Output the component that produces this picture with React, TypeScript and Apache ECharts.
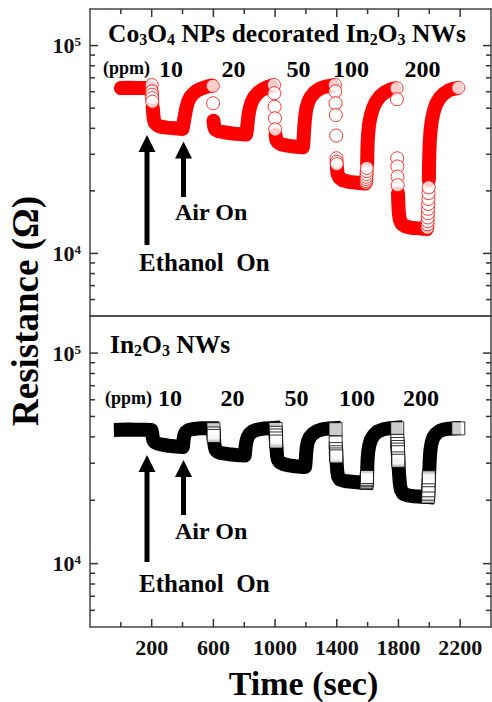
import React, { useEffect, useRef } from "react";
import * as echarts from "echarts";

// ---------- data ----------
const concentrations = ["10", "20", "50", "100", "200"];
const xMajorTicks = [200, 600, 1000, 1400, 1800, 2200];
const xMinorTicks = [0, 400, 800, 1200, 1600, 2000];
const yMajorTicks = [10000, 100000];
const yMinorTicks = [6000, 7000, 8000, 9000, 20000, 30000, 40000, 50000, 60000, 70000, 80000, 90000];

// Co3O4 NPs decorated In2O3 NWs : dense part of the trace (time s, resistance ohm), null = gap
const coBand: (number[] | null)[] = [
  [0, 62500], [50, 62700], [100, 62600], [150, 62500], [195, 62300], null,
  [207, 50500], [210, 47000], [214, 44200], [220, 42600], [235, 41400], [260, 40700], [300, 40300], [350, 40000], [400, 39700],
  [405, 41500], [410, 43800], [416, 46500], [424, 50000], [435, 53500], [450, 56500], [470, 58800], [495, 60800], [525, 62300], [560, 63500], [588, 64300], null,
  [601, 43500], [605, 40800], [612, 39500], [630, 38800], [670, 38300], [720, 37800], [770, 37500], [812, 37300],
  [816, 38600], [819, 40500], [823, 43300], [828, 46500], [836, 50000], [848, 53500], [865, 56500], [888, 59200], [915, 61300], [945, 62900], [978, 64100], null,
  [1003, 37200], [1008, 35300], [1018, 34200], [1040, 33500], [1080, 33000], [1120, 32700], [1160, 32500], [1180, 32400],
  [1184, 34500], [1187, 38000], [1191, 42000], [1196, 46000], [1203, 50000], [1215, 53500], [1232, 56800], [1255, 59500], [1285, 61800], [1320, 63300], [1372, 64400], null,
  [1401, 26000], [1405, 24200], [1415, 23200], [1440, 22500], [1480, 22100], [1530, 21900], [1585, 21700], null,
  [1597, 27000], [1598, 30000], [1600, 34000], [1604, 38000], [1610, 42000], [1620, 46000], [1635, 50000], [1655, 53800], [1680, 57000], [1710, 59500], [1745, 61300], [1772, 62100], null,
  [1797, 19500], [1799, 17500], [1802, 15800], [1808, 14600], [1820, 13900], [1845, 13500], [1880, 13300], [1930, 13200], [1984, 13100], null,
  [1997, 22500], [1998, 26000], [2000, 30000], [2003, 34500], [2008, 39000], [2016, 43500], [2028, 48000], [2045, 52500], [2068, 56000], [2095, 58800], [2125, 60800], [2150, 61800], [2175, 62300],
];
// Co3O4 NPs decorated In2O3 NWs : separate points at the switching moments
const coPoints: number[][] = [
  [200, 64600], [201, 60200], [202, 58000], [203, 55900], [204, 53700],
  [596, 64000], [598, 52800],
  [993, 64700], [995, 59000], [997, 50800], [999, 44700], [1001, 39500],
  [1388, 64700], [1390, 60200], [1392, 52800], [1394, 46300], [1396, 36900], [1398, 28700], [1399, 27600], [1400, 26900],
  [1589, 21900], [1590, 22300], [1591, 22800], [1592, 23400], [1593, 24100], [1594, 24900], [1595, 25800],
  [1788, 62400], [1790, 55200], [1792, 28700], [1793, 26200], [1794, 23400], [1795, 21300],
  [1987, 13300], [1988, 13800], [1989, 14300], [1990, 14900], [1991, 15600], [1992, 16400], [1993, 17300], [1994, 18300], [1995, 19500], [1996, 20800],
  [2188, 62600],
];

// In2O3 NWs : dense part of the trace
const inBand: (number[] | null)[] = [
  [0, 43200], [50, 43300], [100, 43200], [150, 43200], [198, 43100], [202, 42000], [206, 40000], [211, 38600], [220, 37700], [240, 37100], [270, 36700], [310, 36300], [360, 36000], [402, 35800],
  [405, 37500], [408, 39500], [413, 41000], [422, 42200], [440, 43100], [470, 43600], [510, 43900], [555, 44000], [590, 44000], null,
  [604, 39200], [606, 37500], [609, 36000], [614, 34800], [625, 34000], [650, 33500], [700, 33100], [750, 32800], [803, 32600],
  [806, 34000], [809, 36000], [814, 38000], [822, 39800], [835, 41300], [855, 42500], [885, 43300], [925, 43800], [965, 44000], [990, 44100], null,
  [1008, 36500], [1010, 34500], [1013, 32500], [1018, 31200], [1030, 30300], [1055, 29700], [1090, 29300], [1130, 29000], [1170, 28800], [1195, 28800],
  [1198, 30500], [1201, 33000], [1205, 35500], [1212, 37800], [1225, 39800], [1245, 41400], [1272, 42600], [1305, 43400], [1345, 43800], [1382, 44000], null,
  [1398, 31200], [1400, 29500], [1403, 27500], [1408, 26000], [1420, 25100], [1450, 24700], [1500, 24500], [1550, 24300], [1590, 24200], null,
  [1597, 27000], [1598, 29000], [1600, 31500], [1604, 34000], [1611, 36500], [1622, 38800], [1640, 40800], [1665, 42400], [1700, 43400], [1745, 44000], [1782, 44200], null,
  [1800, 30000], [1802, 28000], [1805, 26000], [1809, 24000], [1815, 22500], [1830, 21500], [1860, 21100], [1900, 20900], [1950, 20800], [1988, 20700], null,
  [1999, 26800], [2001, 29000], [2003, 31500], [2007, 34500], [2014, 37200], [2025, 39600], [2042, 41300], [2065, 42600], [2095, 43400], [2125, 43700], [2160, 43850],
];
// In2O3 NWs : separate points at the switching moments
const inPoints: number[][] = [
  [600, 43500], [601, 41500], [602, 40400],
  [1003, 43600], [1004, 41800], [1005, 40600], [1006, 39300], [1007, 38000],
  [1392, 43500], [1393, 37600], [1394, 35000], [1395, 33800], [1396, 33000], [1397, 32300],
  [1592, 24200], [1593, 24500], [1594, 24900], [1595, 25300], [1596, 25800],
  [1792, 43900], [1793, 38300], [1794, 37000], [1795, 35800], [1796, 34800], [1797, 33800], [1798, 31600], [1799, 30800],
  [1992, 20800], [1993, 21500], [1994, 22300], [1995, 23500], [1996, 24900], [1997, 25700],
  [2188, 43900],
];

// ---------- styling ----------
const FONT = "'Liberation Serif', 'Times New Roman', Times, serif";
const AXIS_COLOR = "#444";
const RED = "#ff0000";
const BLACK = "#000000";
const X_MIN = -200;
const X_MAX = 2400;
const Y_MIN = 5000;
const Y_MAX = 150000;

function toLineData(arr: (number[] | null)[]) {
  return arr.map((p) => (p ? p : ["-", "-"]));
}

// tick items: [x, y, length, kind]  kind 0 = y tick (left+right), 1 = x tick at bottom, 2 = x tick at top
function tickData(xSide: number) {
  return [
    ...yMajorTicks.map((v) => [X_MIN, v, 8, 0]),
    ...yMinorTicks.map((v) => [X_MIN, v, 5, 0]),
    ...xMajorTicks.map((t) => [t, Y_MIN, 8, xSide]),
    ...xMinorTicks.map((t) => [t, Y_MIN, 5, xSide]),
  ];
}

function tickRenderer(params: any, api: any) {
  const x = api.value(0);
  const y = api.value(1);
  const len = api.value(2);
  const kind = api.value(3);
  const style = { stroke: "#333", lineWidth: 1.5 };
  const children: any[] = [];
  if (kind === 0) {
    const l = api.coord([X_MIN, y]);
    const r = api.coord([X_MAX, y]);
    children.push({ type: "line", shape: { x1: l[0], y1: l[1], x2: l[0] + len, y2: l[1] }, style });
    children.push({ type: "line", shape: { x1: r[0], y1: r[1], x2: r[0] - len, y2: r[1] }, style });
  } else if (kind === 1) {
    const b = api.coord([x, Y_MIN]);
    children.push({ type: "line", shape: { x1: b[0], y1: b[1], x2: b[0], y2: b[1] - len }, style });
  } else {
    const t = api.coord([x, Y_MAX]);
    children.push({ type: "line", shape: { x1: t[0], y1: t[1], x2: t[0], y2: t[1] + len }, style });
  }
  return { type: "group", children };
}

function buildOption() {
  const grids = [
    { left: 90, top: 9, width: 401, height: 307 },
    { left: 90, top: 316, width: 401, height: 311 },
  ];
  const lineStyle = { color: AXIS_COLOR, width: 1.5 };

  const xAxis: any[] = [];
  const yAxis: any[] = [];
  [0, 1].forEach((g) => {
    ["bottom", "top"].forEach((position) => {
      const labelled = g === 1 && position === "bottom";
      xAxis.push({
        type: "value",
        gridIndex: g,
        position,
        min: X_MIN,
        max: X_MAX,
        axisLine: { show: true, onZero: false, lineStyle },
        axisTick: { show: false },
        axisLabel: labelled
          ? {
              show: true,
              customValues: xMajorTicks,
              margin: 9,
              formatter: (v: number) => String(v),
              fontFamily: FONT,
              fontWeight: "bold",
              fontSize: 22,
              color: "#111",
            }
          : { show: false },
        splitLine: { show: false },
      });
    });
    ["left", "right"].forEach((position) => {
      const labelled = position === "left";
      yAxis.push({
        type: "log",
        logBase: 10,
        gridIndex: g,
        position,
        min: Y_MIN,
        max: Y_MAX,
        axisLine: { show: true, onZero: false, lineStyle },
        axisTick: { show: false },
        axisLabel: labelled
          ? {
              show: true,
              customValues: yMajorTicks,
              margin: 9,
              formatter: (v: number) => "{b|10}{s|" + Math.round(Math.log10(v)) + "}",
              rich: {
                b: { fontFamily: FONT, fontWeight: "bold", fontSize: 22, color: "#111" },
                s: { fontFamily: FONT, fontWeight: "bold", fontSize: 13, color: "#111", padding: [0, 0, 8, 0] },
              },
            }
          : { show: false },
        splitLine: { show: false },
      });
    });
  });

  const bold = (size: number) => ({ fontFamily: FONT, fontWeight: "bold", fontSize: size, fill: "#000" });
  const txt = (text: string, x: number, y: number, size: number, align = "left", extra: any = {}) => ({
    type: "text",
    x,
    y,
    silent: true,
    style: { text, ...bold(size), align, textAlign: align, verticalAlign: "middle", textVerticalAlign: "middle", ...extra },
  });
  const subRich = {
    sub: { fontFamily: FONT, fontWeight: "bold", fontSize: 16, fill: "#000", padding: [12, 0, 0, 0] },
  };
  const arrow = (x: number, tipY: number, endY: number) => [
    { type: "line", silent: true, shape: { x1: x, y1: tipY + 14, x2: x, y2: endY }, style: { stroke: "#000", lineWidth: 5 } },
    { type: "polygon", silent: true, shape: { points: [[x, tipY], [x - 8.5, tipY + 17], [x + 8.5, tipY + 17]] }, style: { fill: "#000" } },
  ];

  const topConcX = [171, 233.5, 298.5, 351, 422.5];
  const botConcX = [170, 232.5, 296.5, 357, 421];

  const graphic: any[] = [
    txt("Co{sub|3}O{sub|4} NPs decorated In{sub|2}O{sub|3} NWs", 108, 33, 25.5, "left", { rich: subRich }),
    txt("(ppm)", 103, 68, 18),
    ...concentrations.map((c, i) => txt(c, topConcX[i], 69, 24, "center")),
    txt("In{sub|2}O{sub|3} NWs", 110, 344, 25.5, "left", { rich: subRich }),
    txt("(ppm)", 105, 398, 18),
    ...concentrations.map((c, i) => txt(c, botConcX[i], 398, 24, "center")),
    ...arrow(147, 135, 245),
    ...arrow(183.5, 141.5, 197),
    txt("Air On", 175, 212, 24),
    txt("Ethanol  On", 139, 262, 25),
    ...arrow(147, 455, 562),
    ...arrow(183.5, 460, 515),
    txt("Air On", 175, 531, 24),
    txt("Ethanol  On", 139, 583, 25),
    txt("Time (sec)", 303.5, 683, 34, "center"),
    { ...txt("Resistance (Ω)", 25, 311, 37, "center"), rotation: Math.PI / 2 },
  ];

  return {
    animation: false,
    backgroundColor: "#ffffff",
    grid: grids,
    xAxis,
    yAxis,
    graphic,
    series: [
      {
        type: "custom",
        xAxisIndex: 0,
        yAxisIndex: 0,
        data: tickData(2),
        encode: { x: 0, y: 1 },
        renderItem: tickRenderer,
        clip: false,
        silent: true,
        z: 5,
      },
      {
        type: "custom",
        xAxisIndex: 2,
        yAxisIndex: 2,
        data: tickData(1),
        encode: { x: 0, y: 1 },
        renderItem: tickRenderer,
        clip: false,
        silent: true,
        z: 5,
      },
      {
        type: "line",
        xAxisIndex: 0,
        yAxisIndex: 0,
        data: toLineData(coBand),
        showSymbol: false,
        symbol: "none",
        connectNulls: false,
        silent: true,
        z: 2,
        lineStyle: { color: RED, width: 14, cap: "round", join: "round" },
      },
      {
        type: "scatter",
        xAxisIndex: 0,
        yAxisIndex: 0,
        data: coPoints,
        symbol: "circle",
        symbolSize: 13,
        silent: true,
        z: 3,
        itemStyle: { color: "#ffffff", borderColor: RED, borderWidth: 1 },
      },
      {
        type: "line",
        xAxisIndex: 2,
        yAxisIndex: 2,
        data: toLineData(inBand),
        showSymbol: false,
        symbol: "none",
        connectNulls: false,
        silent: true,
        z: 2,
        lineStyle: { color: BLACK, width: 14, cap: "square", join: "round" },
      },
      {
        type: "scatter",
        xAxisIndex: 2,
        yAxisIndex: 2,
        data: inPoints,
        symbol: "rect",
        symbolSize: 13,
        silent: true,
        z: 3,
        itemStyle: { color: "#ffffff", borderColor: BLACK, borderWidth: 1 },
      },
    ],
  };
}

export default function App() {
  const ref = useRef<HTMLDivElement>(null);
  useEffect(() => {
    if (!ref.current) return;
    const chart = echarts.init(ref.current, undefined, { renderer: "svg" });
    chart.setOption(buildOption() as any);
    return () => chart.dispose();
  }, []);
  return (
    <div
      ref={ref}
      style={{ position: "fixed", left: 0, top: 0, width: 492, height: 702, background: "#fff" }}
    />
  );
}
